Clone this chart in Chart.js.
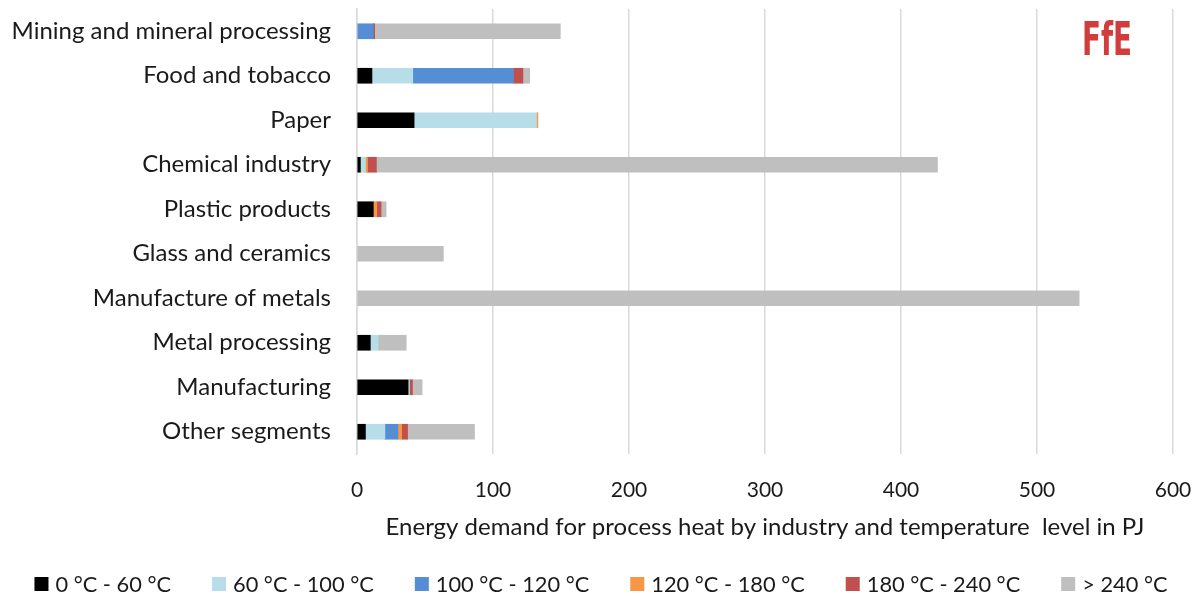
<!DOCTYPE html>
<html>
<head>
<meta charset="utf-8">
<script src="https://cdn.jsdelivr.net/npm/chart.js@4"></script>
<style>
  html, body { margin: 0; padding: 0; background: #ffffff; }
  #wrap { width: 1197px; height: 596px; position: relative; }
</style>
</head>
<body>
<div id="wrap"><canvas id="c"></canvas></div>
<script>
// Industry segments, top to bottom
const categories = [
  "Mining and mineral processing",
  "Food and tobacco",
  "Paper",
  "Chemical industry",
  "Plastic products",
  "Glass and ceramics",
  "Manufacture of metals",
  "Metal processing",
  "Manufacturing",
  "Other segments"
];

// Temperature bands (legend labels)
const seriesNames = ["0 °C - 60 °C", "60 °C - 100 °C", "100 °C - 120 °C", "120 °C - 180 °C", "180 °C - 240 °C", "> 240 °C"];

// Process heat demand in PJ per temperature band
const band0to60    = [0,     11, 42,  2.5,  12,  0,    0,   9.8, 37.6, 6.2];
const band60to100  = [0,     30, 90,  3.7,  0,   0,    0,   5.7, 1,    14.3];
const band100to120 = [12,    74, 0,   0,    0,   0,    0,   0,   0,    9.6];
const band120to180 = [0,     0,  1,   1.5,  2.5, 0,    0,   0,   0,    2.7];
const band180to240 = [1,     7,  0,   6.6,  3.2, 0,    0,   0,   2.2,  4.4];
const bandAbove240 = [136.5, 5,  0,   412.5, 3.7, 63.5, 531, 20.7, 7.1, 49.2];

// Value axis ticks
const xTicks = [0, 100, 200, 300, 400, 500, 600];

const bandColors = ["#000000", "#b7dde8", "#558ed5", "#f79646", "#c0504d", "#bfbfbf"];
const bandValues = [band0to60, band60to100, band100to120, band120to180, band180to240, bandAbove240];

const FONT = "Lato, 'Open Sans', sans-serif";
const TEXT = "#1a1a1a";

// Legend row along the bottom edge
const bottomLegend = {
  id: "bottomLegend",
  afterDraw(chart) {
    const ctx = chart.ctx;
    const box = 14, boxGap = 7, itemGap = 41, cy = 584;
    ctx.save();
    ctx.font = "21.8px " + FONT;
    ctx.textBaseline = "middle";
    ctx.textAlign = "left";
    const items = chart.data.datasets.map(d => ({ label: d.label, color: d.backgroundColor, w: ctx.measureText(d.label).width }));
    let total = 0;
    items.forEach((it, i) => { total += box + boxGap + it.w + (i < items.length - 1 ? itemGap : 0); });
    let x = 601 - total / 2;
    items.forEach(it => {
      ctx.fillStyle = it.color;
      ctx.fillRect(x, cy - box / 2, box, box);
      x += box + boxGap;
      ctx.fillStyle = TEXT;
      ctx.fillText(it.label, x, cy + 1);
      x += it.w + itemGap;
    });
    ctx.restore();
  }
};

// Institute mark in the upper right corner
const cornerMark = {
  id: "cornerMark",
  afterDraw(chart) {
    const ctx = chart.ctx;
    ctx.save();
    ctx.font = "bold 44px 'DejaVu Sans Condensed', 'Liberation Sans', sans-serif";
    ctx.textBaseline = "alphabetic";
    ctx.textAlign = "left";
    const w = ctx.measureText("FfE").width;
    ctx.translate(1082, 55);
    ctx.scale(50 / w, 1.05);
    ctx.filter = "blur(0.5px)";
    ctx.fillStyle = "#d23c3c";
    ctx.fillText("FfE", 0, 0);
    ctx.restore();
  }
};

new Chart(document.getElementById("c"), {
  type: "bar",
  data: {
    labels: categories,
    datasets: seriesNames.map((name, i) => ({
      label: name,
      // empty bands are left out so no zero-width sliver is drawn
      data: bandValues[i].map(v => (v === 0 ? null : v)),
      backgroundColor: bandColors[i],
      borderWidth: 0,
      barThickness: 15
    }))
  },
  options: {
    indexAxis: "y",
    responsive: true,
    maintainAspectRatio: false,
    animation: false,
    layout: { padding: { top: 9, right: 24, left: 0, bottom: 54 } },
    plugins: {
      legend: { display: false },
      tooltip: { enabled: false }
    },
    scales: {
      x: {
        stacked: true,
        min: 0,
        max: 600,
        afterBuildTicks(scale) { scale.ticks = xTicks.map(v => ({ value: v })); },
        afterFit(scale) {
          scale.height = 88;
          scale.paddingLeft = 0;
          scale.paddingRight = 0;
        },
        grid: { color: "#d9d9d9", lineWidth: 1.5, drawTicks: false },
        border: { display: false },
        ticks: { color: TEXT, font: { family: FONT, size: 21 }, padding: 24 },
        title: {
          display: true,
          text: "Energy demand for process heat by industry and temperature  level in PJ",
          color: TEXT,
          font: { family: FONT, size: 24 },
          padding: { top: 0, bottom: 0 }
        }
      },
      y: {
        stacked: true,
        afterFit(scale) {
          scale.width = 357;
          scale.paddingTop = 0;
          scale.paddingBottom = 0;
        },
        grid: { display: false, drawTicks: false },
        border: { display: true, color: "#d9d9d9", width: 1.5 },
        ticks: { color: TEXT, font: { family: FONT, size: 24 }, padding: 26 }
      }
    }
  },
  plugins: [bottomLegend, cornerMark]
});
</script>
</body>
</html>
